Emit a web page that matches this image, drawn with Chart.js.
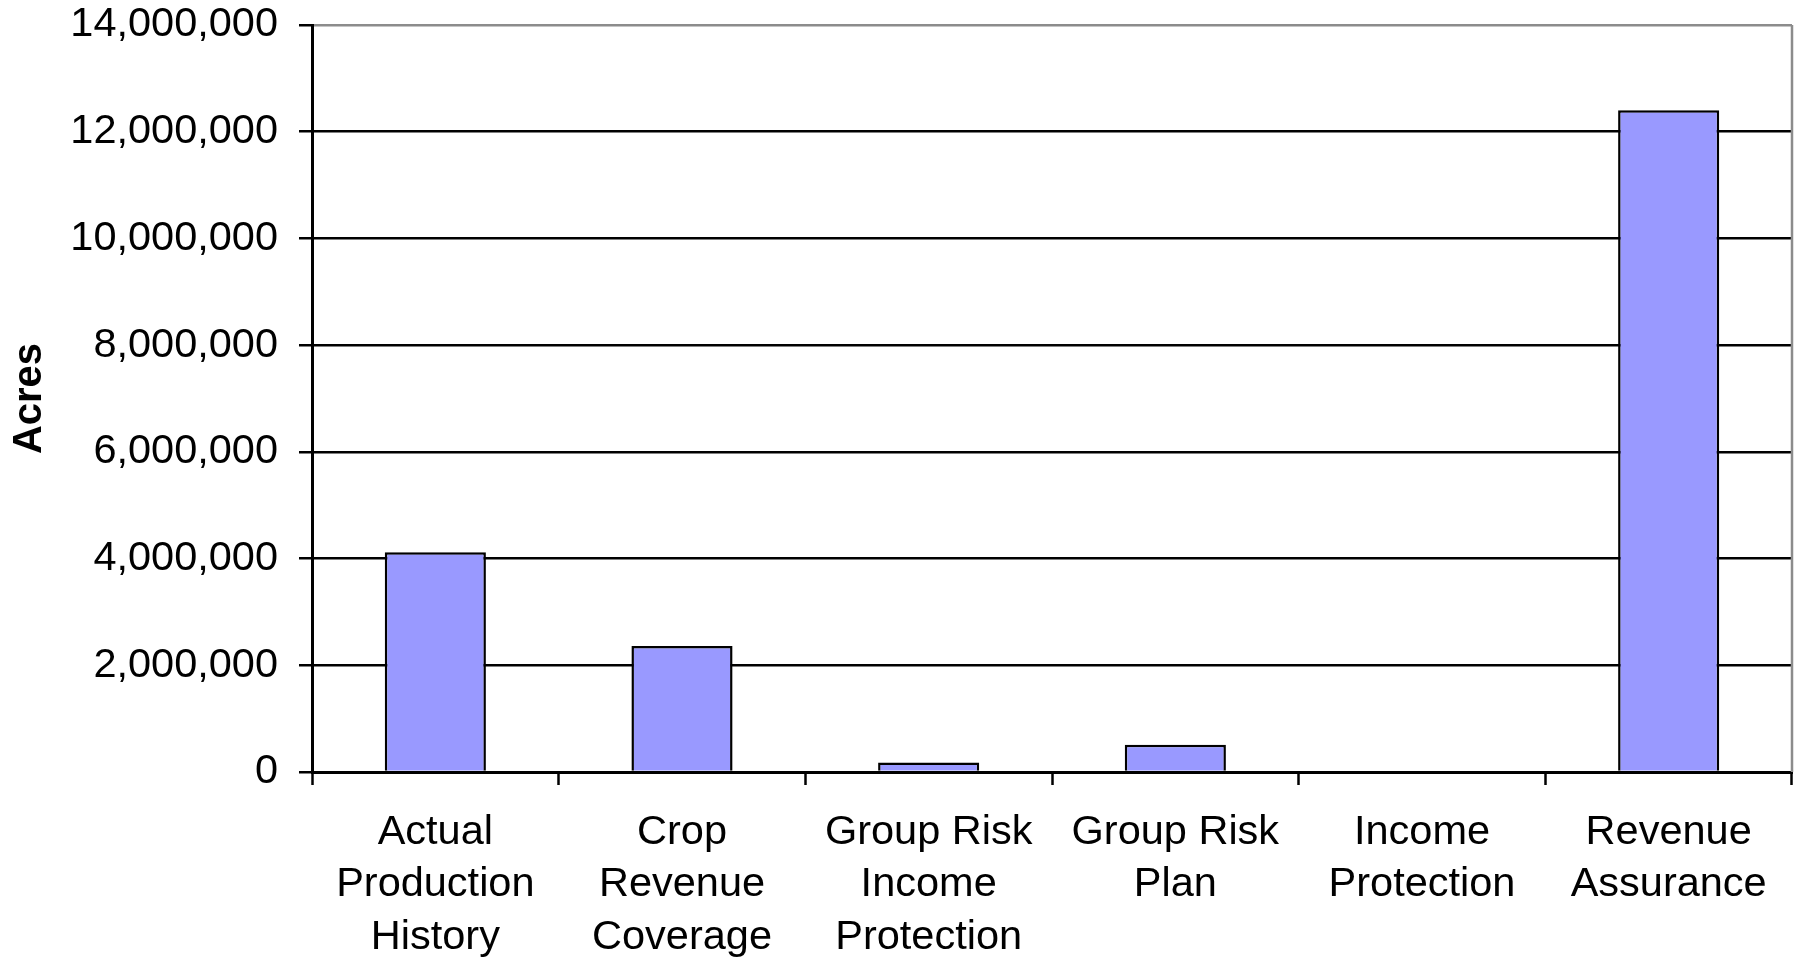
<!DOCTYPE html>
<html>
<head>
<meta charset="utf-8">
<script src="https://cdn.jsdelivr.net/npm/chart.js@4/dist/chart.umd.min.js"></script>
<style>
  html, body { margin: 0; padding: 0; background: #fff; overflow: hidden; }
  #wrap { width: 1796px; height: 958px; position: relative; }
</style>
</head>
<body>
<div id="wrap"><canvas id="acres-chart"></canvas></div>
<script>
// insurance plan categories and insured acres
const plans = [
  ['Actual', 'Production', 'History'],
  ['Crop', 'Revenue', 'Coverage'],
  ['Group Risk', 'Income', 'Protection'],
  ['Group Risk', 'Plan'],
  ['Income', 'Protection'],
  ['Revenue', 'Assurance']
];
const acres = [4120000, 2360000, 180000, 510000, 0, 12400000];
const yTicks = [0, 2000000, 4000000, 6000000, 8000000, 10000000, 12000000, 14000000];

const FONT = 'Liberation Sans, Arial, sans-serif';
const LINE = 2.5;

// gray frame on the right side of the plot area
const frameRight = {
  id: 'frameRight',
  afterDraw(chart) {
    const { ctx, chartArea } = chart;
    ctx.save();
    ctx.strokeStyle = '#8c8c8c';
    ctx.lineWidth = LINE;
    ctx.beginPath();
    ctx.moveTo(chartArea.right, chartArea.top);
    ctx.lineTo(chartArea.right, chartArea.bottom);
    ctx.stroke();
    ctx.restore();
  }
};

new Chart(document.getElementById('acres-chart'), {
  type: 'bar',
  data: {
    labels: plans,
    datasets: [{
      label: 'Acres',
      data: acres,
      backgroundColor: '#9999ff',
      borderColor: '#000',
      borderWidth: LINE,
      borderSkipped: 'bottom',
      categoryPercentage: 1,
      barPercentage: 0.41
    }]
  },
  options: {
    responsive: true,
    maintainAspectRatio: false,
    animation: false,
    layout: { padding: { top: 25, right: 4, left: 0, bottom: 0 } },
    plugins: {
      legend: { display: false },
      tooltip: { enabled: false }
    },
    scales: {
      x: {
        offset: true,
        grid: {
          offset: true,
          drawOnChartArea: false,
          drawTicks: true,
          tickLength: 13,
          tickColor: '#000',
          tickWidth: LINE
        },
        border: { color: '#000', width: 3 },
        ticks: {
          color: '#000',
          font: { family: FONT, size: 41.5, lineHeight: 1.27 },
          padding: 21,
          maxRotation: 0,
          autoSkip: false
        },
        afterFit(scale) {
          scale.height = 186;
          scale.paddingLeft = 0;
          scale.paddingRight = 0;
        }
      },
      y: {
        min: 0,
        max: 14000000,
        afterBuildTicks(scale) {
          scale.ticks = yTicks.map(v => ({ value: v }));
        },
        grid: {
          color: ctx => (ctx.tick && ctx.tick.value === 14000000) ? '#8c8c8c' : '#000',
          lineWidth: LINE,
          tickLength: 13,
          tickColor: '#000',
          tickWidth: LINE
        },
        border: { color: '#000', width: 3 },
        ticks: {
          color: '#000',
          font: { family: FONT, size: 41.5 },
          padding: 21,
          callback: v => v.toLocaleString('en-US')
        },
        title: {
          display: true,
          text: 'Acres',
          color: '#000',
          font: { family: FONT, size: 40, weight: 'bold' },
          padding: { top: 6, bottom: 0 }
        },
        afterFit(scale) {
          scale.width = 312;
          scale.paddingTop = 0;
          scale.paddingBottom = 0;
        }
      }
    }
  },
  plugins: [frameRight]
});
</script>
</body>
</html>
